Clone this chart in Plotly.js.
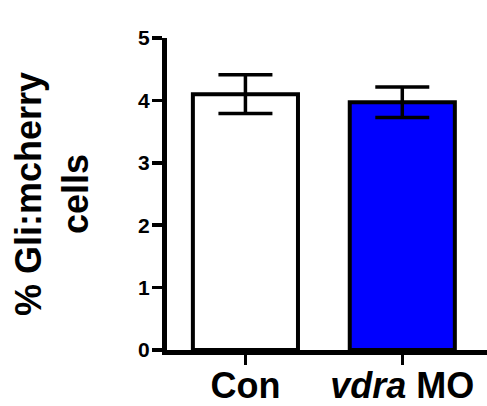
<!DOCTYPE html>
<html>
<head>
<meta charset="utf-8">
<script src="https://cdn.plot.ly/plotly-3.0.1.min.js"></script>
<style>html,body{margin:0;padding:0;background:#fff;}#chart{width:487px;height:406px;}</style>
</head>
<body>
<div id="chart"></div>
<script>
const categories = ['Con', 'vdra MO'];
const tickLabels = ['Con', '<i>vdra</i> MO'];
const values = [4.10, 3.97];
const errors = [0.31, 0.245];
const barColors = ['#ffffff', '#0000ff'];

const trace = {
  type: 'bar',
  x: categories,
  y: values,
  width: 0.67,
  marker: { color: barColors, line: { color: '#000', width: 4 } },
  error_y: { type: 'data', array: errors, visible: true, color: '#000', thickness: 3.5, width: 27 },
  hoverinfo: 'none'
};

const fam = 'Liberation Sans, Arial, sans-serif';

const layout = {
  width: 487, height: 406,
  margin: { l: 167, r: 0, t: 38, b: 56, pad: 0 },
  paper_bgcolor: '#fff', plot_bgcolor: '#fff',
  showlegend: false,
  font: { family: fam, color: '#000' },
  xaxis: {
    type: 'category',
    range: [-0.5, 1.54],
    tickvals: categories,
    ticktext: tickLabels,
    showline: true, linecolor: '#000', linewidth: 5,
    ticks: 'outside', ticklen: 10, tickwidth: 3.5, tickcolor: '#000',
    ticklabelstandoff: -10,
    tickfont: { family: fam, size: 36, color: '#000', weight: 'bold' },
    showgrid: false, zeroline: false, fixedrange: true
  },
  yaxis: {
    range: [0, 5],
    dtick: 1,
    showline: true, linecolor: '#000', linewidth: 5,
    ticks: 'outside', ticklen: 10, tickwidth: 3.5, tickcolor: '#000',
    ticklabelstandoff: -2,
    tickfont: { family: fam, size: 21, color: '#000', weight: 'bold' },
    showgrid: false, zeroline: false, fixedrange: true,
    title: { text: '% Gli:mcherry<br>cells', standoff: 40,
      font: { family: fam, size: 36, color: '#000', weight: 'bold' } }
  }
};

Plotly.newPlot('chart', [trace], layout, { displayModeBar: false, staticPlot: true });
</script>
</body>
</html>
